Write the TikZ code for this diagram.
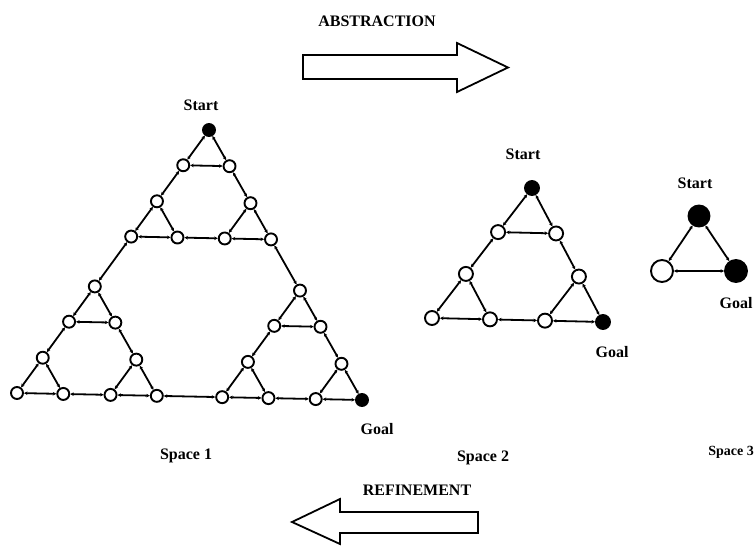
\documentclass[tikz,border=0pt]{standalone}
\usepackage{fontspec}
\setmainfont{Liberation Serif}
\usetikzlibrary{arrows.meta}
\begin{document}
\begin{tikzpicture}[x=1pt,y=-1pt,
  vtx/.style={circle,draw,line width=1.9pt,fill=white,inner sep=0pt,minimum size=12pt},
  vtxb/.style={vtx,minimum size=14pt},
  vtxc/.style={vtx,minimum size=22pt},
  hl-ccc/.style={fill=black},
  hl-bbb/.style={fill=black},
  hl-cc/.style={fill=black},
  hl-bb/.style={fill=black},
  edge/.style={line width=1.8pt,{Stealth[length=3.5pt,width=3.5pt]}-{Stealth[length=3.5pt,width=3.5pt]}},
  lbl/.style={font=\bfseries\fontsize{16}{18}\selectfont,inner sep=0pt},
  bigarrow/.style={draw,line width=1.8pt,fill=white,line join=miter}]
\useasboundingbox[fill=white] (0,0) rectangle (756,546);

% ---------- big arrows ----------
\draw[bigarrow] (303,55) -- (457,55) -- (457,43) -- (508,67.5) -- (457,92) -- (457,79) -- (303,79) -- cycle;
\draw[bigarrow] (478,512) -- (340,512) -- (340,499) -- (292,522) -- (340,544) -- (340,533) -- (478,533) -- cycle;
\node[lbl] (abs) at (377,21) {ABSTRACTION};
\node[lbl] (ref) at (417,490) {REFINEMENT};

% ---------- Space 1 ----------
\begin{scope}[shift={(17,393)},x={(1.0058pt,-0.0204pt)},y={(0.5598pt,0.7668pt)}]
\foreach \i/\ox/\oy in {a/0/0,b/204/0,c/0/204}
 \foreach \j/\px/\py in {a/0/0,b/93/0,c/0/93}
  \foreach \k/\qx/\qy in {a/0/0,b/46/0,c/0/46}
   \node[vtx,hl-\i\j\k/.try] (p\i\j\k) at ({\ox+\px+\qx},{\oy+\py+\qy}) {};
\end{scope}
\foreach \i in {a,b,c}{
  \foreach \j in {a,b,c}{
    \draw[edge] (p\i\j a) -- (p\i\j b);
    \draw[edge] (p\i\j a) -- (p\i\j c);
    \draw[edge] (p\i\j b) -- (p\i\j c);
  }
  \draw[edge] (p\i ab) -- (p\i ba);
  \draw[edge] (p\i ac) -- (p\i ca);
  \draw[edge] (p\i bc) -- (p\i cb);
}
\draw[edge] (pabb) -- (pbaa);
\draw[edge] (pacc) -- (pcaa);
\draw[edge] (pbcc) -- (pcbb);
\node[lbl] (start1) at (201,105) {Start};
\node[lbl] (goal1) at (377,429) {Goal};
\node[lbl] (space1) at (186,456) {Space 1};

% ---------- Space 2 ----------
\begin{scope}[shift={(432,318)},x={(1pt,-0.0234pt)},y={(0.5848pt,0.7602pt)}]
 \foreach \j/\px/\py in {a/0/0,b/113/0,c/0/113}
  \foreach \k/\qx/\qy in {a/0/0,b/58/0,c/0/58}
   \node[vtxb,hl-\j\k/.try] (q\j\k) at ({\px+\qx},{\py+\qy}) {};
\end{scope}
\foreach \j in {a,b,c}{
  \draw[edge] (q\j a) -- (q\j b);
  \draw[edge] (q\j a) -- (q\j c);
  \draw[edge] (q\j b) -- (q\j c);
}
\draw[edge] (qab) -- (qba);
\draw[edge] (qac) -- (qca);
\draw[edge] (qbc) -- (qcb);
\node[lbl] (start2) at (523,154) {Start};
\node[lbl] (goal2) at (612,352) {Goal};
\node[lbl] (space2) at (483,458) {Space 2};

% ---------- Space 3 ----------
\node[vtxc,fill=black,minimum size=21pt] (rt) at (699,216) {};
\node[vtxc] (rl) at (662,271) {};
\node[vtxc,fill=black] (rr) at (736,271) {};
\draw[edge] (rt) -- (rl);
\draw[edge] (rt) -- (rr);
\draw[edge] (rl) -- (rr);
\node[lbl] (start3) at (695,183) {Start};
\node[lbl] (goal3) at (736,303) {Goal};
\node[lbl,anchor=east,font=\bfseries\fontsize{14}{16}\selectfont] (space3) at (754,452) {Space 3};
\end{tikzpicture}
\end{document}
